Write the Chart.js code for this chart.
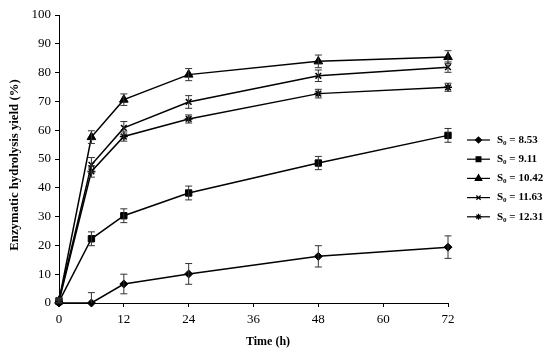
<!DOCTYPE html>
<html><head><meta charset="utf-8">
<script src="https://cdn.jsdelivr.net/npm/chart.js@4/dist/chart.umd.min.js"></script>
<style>html,body{margin:0;padding:0;background:#fff}#wrap{width:550px;height:358px}</style>
</head><body><div id="wrap"><canvas id="c" width="550" height="358"></canvas></div>
<script>
const times = [0, 6, 12, 24, 48, 72];
const seriesNames = ["8.53", "9.11", "10.42", "11.63", "12.31"];
const s853 = [0, 0, 6.6, 10.1, 16.2, 19.4];
const s911 = [0.5, 22.3, 30.3, 38.2, 48.6, 58.2];
const s1042 = [0.8, 57.6, 70.6, 79.3, 83.9, 85.4];
const s1163 = [1.0, 48.0, 60.8, 69.8, 78.9, 81.9];
const s1231 = [0.6, 45.7, 57.8, 63.9, 72.7, 74.9];
const e853 = [0.8, 3.6, 3.4, 3.6, 3.7, 3.9];
const e911 = [0.8, 2.4, 2.4, 2.4, 2.3, 2.4];
const e1042 = [0.8, 2.2, 2.0, 2.1, 2.2, 2.2];
const e1163 = [0.8, 2.5, 2.2, 2.2, 2.0, 1.8];
const e1231 = [0.8, 2.0, 1.6, 1.4, 1.5, 1.4];
const markers = ["rectRot", "rect", "triangle", "crossRot", "star"];
const radii = [4, 4.5, 5, 4, 4];
const yTicks = [0, 10, 20, 30, 40, 50, 60, 70, 80, 90, 100];
const xTicks = [0, 12, 24, 36, 48, 60, 72];

const values = [s853, s911, s1042, s1163, s1231];
const errors = [e853, e911, e1042, e1163, e1231];

const datasets = values.map((v, i) => ({
  label: "S0 = " + seriesNames[i],
  data: times.map((t, k) => ({x: t, y: v[k]})),
  err: errors[i],
  borderColor: "#000",
  backgroundColor: "#000",
  borderWidth: 1.5,
  pointStyle: markers[i],
  pointRadius: radii[i],
  pointBorderWidth: (markers[i] === "crossRot" || markers[i] === "star") ? 1.5 : 1,
  tension: 0,
  clip: false
}));

const errorBars = {
  id: "errorBars",
  afterDatasetsDraw(chart) {
    const ctx = chart.ctx, xs = chart.scales.x, ys = chart.scales.y;
    ctx.save();
    ctx.strokeStyle = "#333";
    ctx.lineWidth = 1;
    chart.data.datasets.forEach(ds => {
      ds.data.forEach((p, k) => {
        const e = ds.err[k];
        const px = xs.getPixelForValue(p.x);
        const top = ys.getPixelForValue(p.y + e);
        const bot = ys.getPixelForValue(Math.max(p.y - e, 0));
        ctx.beginPath();
        ctx.moveTo(px, top); ctx.lineTo(px, bot);
        ctx.moveTo(px - 3.5, top); ctx.lineTo(px + 3.5, top);
        if (p.y - e >= 0) { ctx.moveTo(px - 3.5, bot); ctx.lineTo(px + 3.5, bot); }
        ctx.stroke();
      });
    });
    ctx.restore();
  }
};

const customLegend = {
  id: "customLegend",
  afterDraw(chart) {
    const ctx = chart.ctx;
    ctx.save();
    const x0 = 467, x1 = 490, tx = 497;
    const y0 = 140, dy = 19.2;
    chart.data.datasets.forEach((ds, i) => {
      const y = y0 + i * dy;
      ctx.strokeStyle = "#000"; ctx.lineWidth = 1.2;
      ctx.beginPath(); ctx.moveTo(x0, y); ctx.lineTo(x1, y); ctx.stroke();
      Chart.helpers.drawPoint(ctx, {pointStyle: ds.pointStyle, radius: ds.pointRadius * 0.75, borderWidth: 1}, (x0 + x1) / 2, y);
      ctx.fillStyle = "#000"; ctx.strokeStyle = "#000";
      ctx.textBaseline = "middle"; ctx.textAlign = "left";
      ctx.font = "bold 11px 'Liberation Serif'";
      ctx.fillText("S", tx, y);
      const w = ctx.measureText("S").width;
      ctx.font = "bold 7px 'Liberation Serif'";
      ctx.fillText("0", tx + w, y + 3);
      const w2 = ctx.measureText("0").width;
      ctx.font = "bold 11px 'Liberation Serif'";
      ctx.fillText(" = " + seriesNames[i], tx + w + w2, y);
    });
    // axis titles, placed as in the original
    ctx.font = "bold 12px 'Liberation Serif'";
    ctx.textAlign = "center";
    ctx.fillText("Time (h)", 268, 342);
    ctx.translate(15, 165);
    ctx.rotate(-Math.PI / 2);
    ctx.font = "bold 12.8px 'Liberation Serif'";
    ctx.fillText("Enzymatic hydrolysis yield (%)", 0, 0);
    ctx.restore();
  }
};

new Chart(document.getElementById("c"), {
  type: "line",
  data: { datasets },
  plugins: [errorBars, customLegend],
  options: {
    responsive: false,
    animation: false,
    events: [],
    layout: { padding: { left: 0, right: 102, top: 15, bottom: 0 } },
    plugins: { legend: { display: false }, tooltip: { enabled: false } },
    scales: {
      x: {
        type: "linear", min: 0, max: 72,
        afterBuildTicks(s) { s.ticks = xTicks.map(v => ({value: v})); },
        afterFit(s) { s.height = 55; },
        grid: { drawOnChartArea: false, drawTicks: true, tickLength: 4, color: "#000", lineWidth: 1 },
        border: { color: "#000", width: 1 },
        ticks: { color: "#000", font: { family: "'Liberation Serif'", size: 13 }, padding: 5, maxRotation: 0 },
        title: { display: false }
      },
      y: {
        min: 0, max: 100,
        afterBuildTicks(s) { s.ticks = yTicks.map(v => ({value: v})); },
        afterFit(s) { s.width = 59; },
        grid: { drawOnChartArea: false, drawTicks: true, tickLength: 4, color: "#000", lineWidth: 1 },
        border: { color: "#000", width: 1 },
        ticks: { color: "#000", font: { family: "'Liberation Serif'", size: 13 }, padding: 4 },
        title: { display: false }
      }
    }
  }
});
</script></body></html>
